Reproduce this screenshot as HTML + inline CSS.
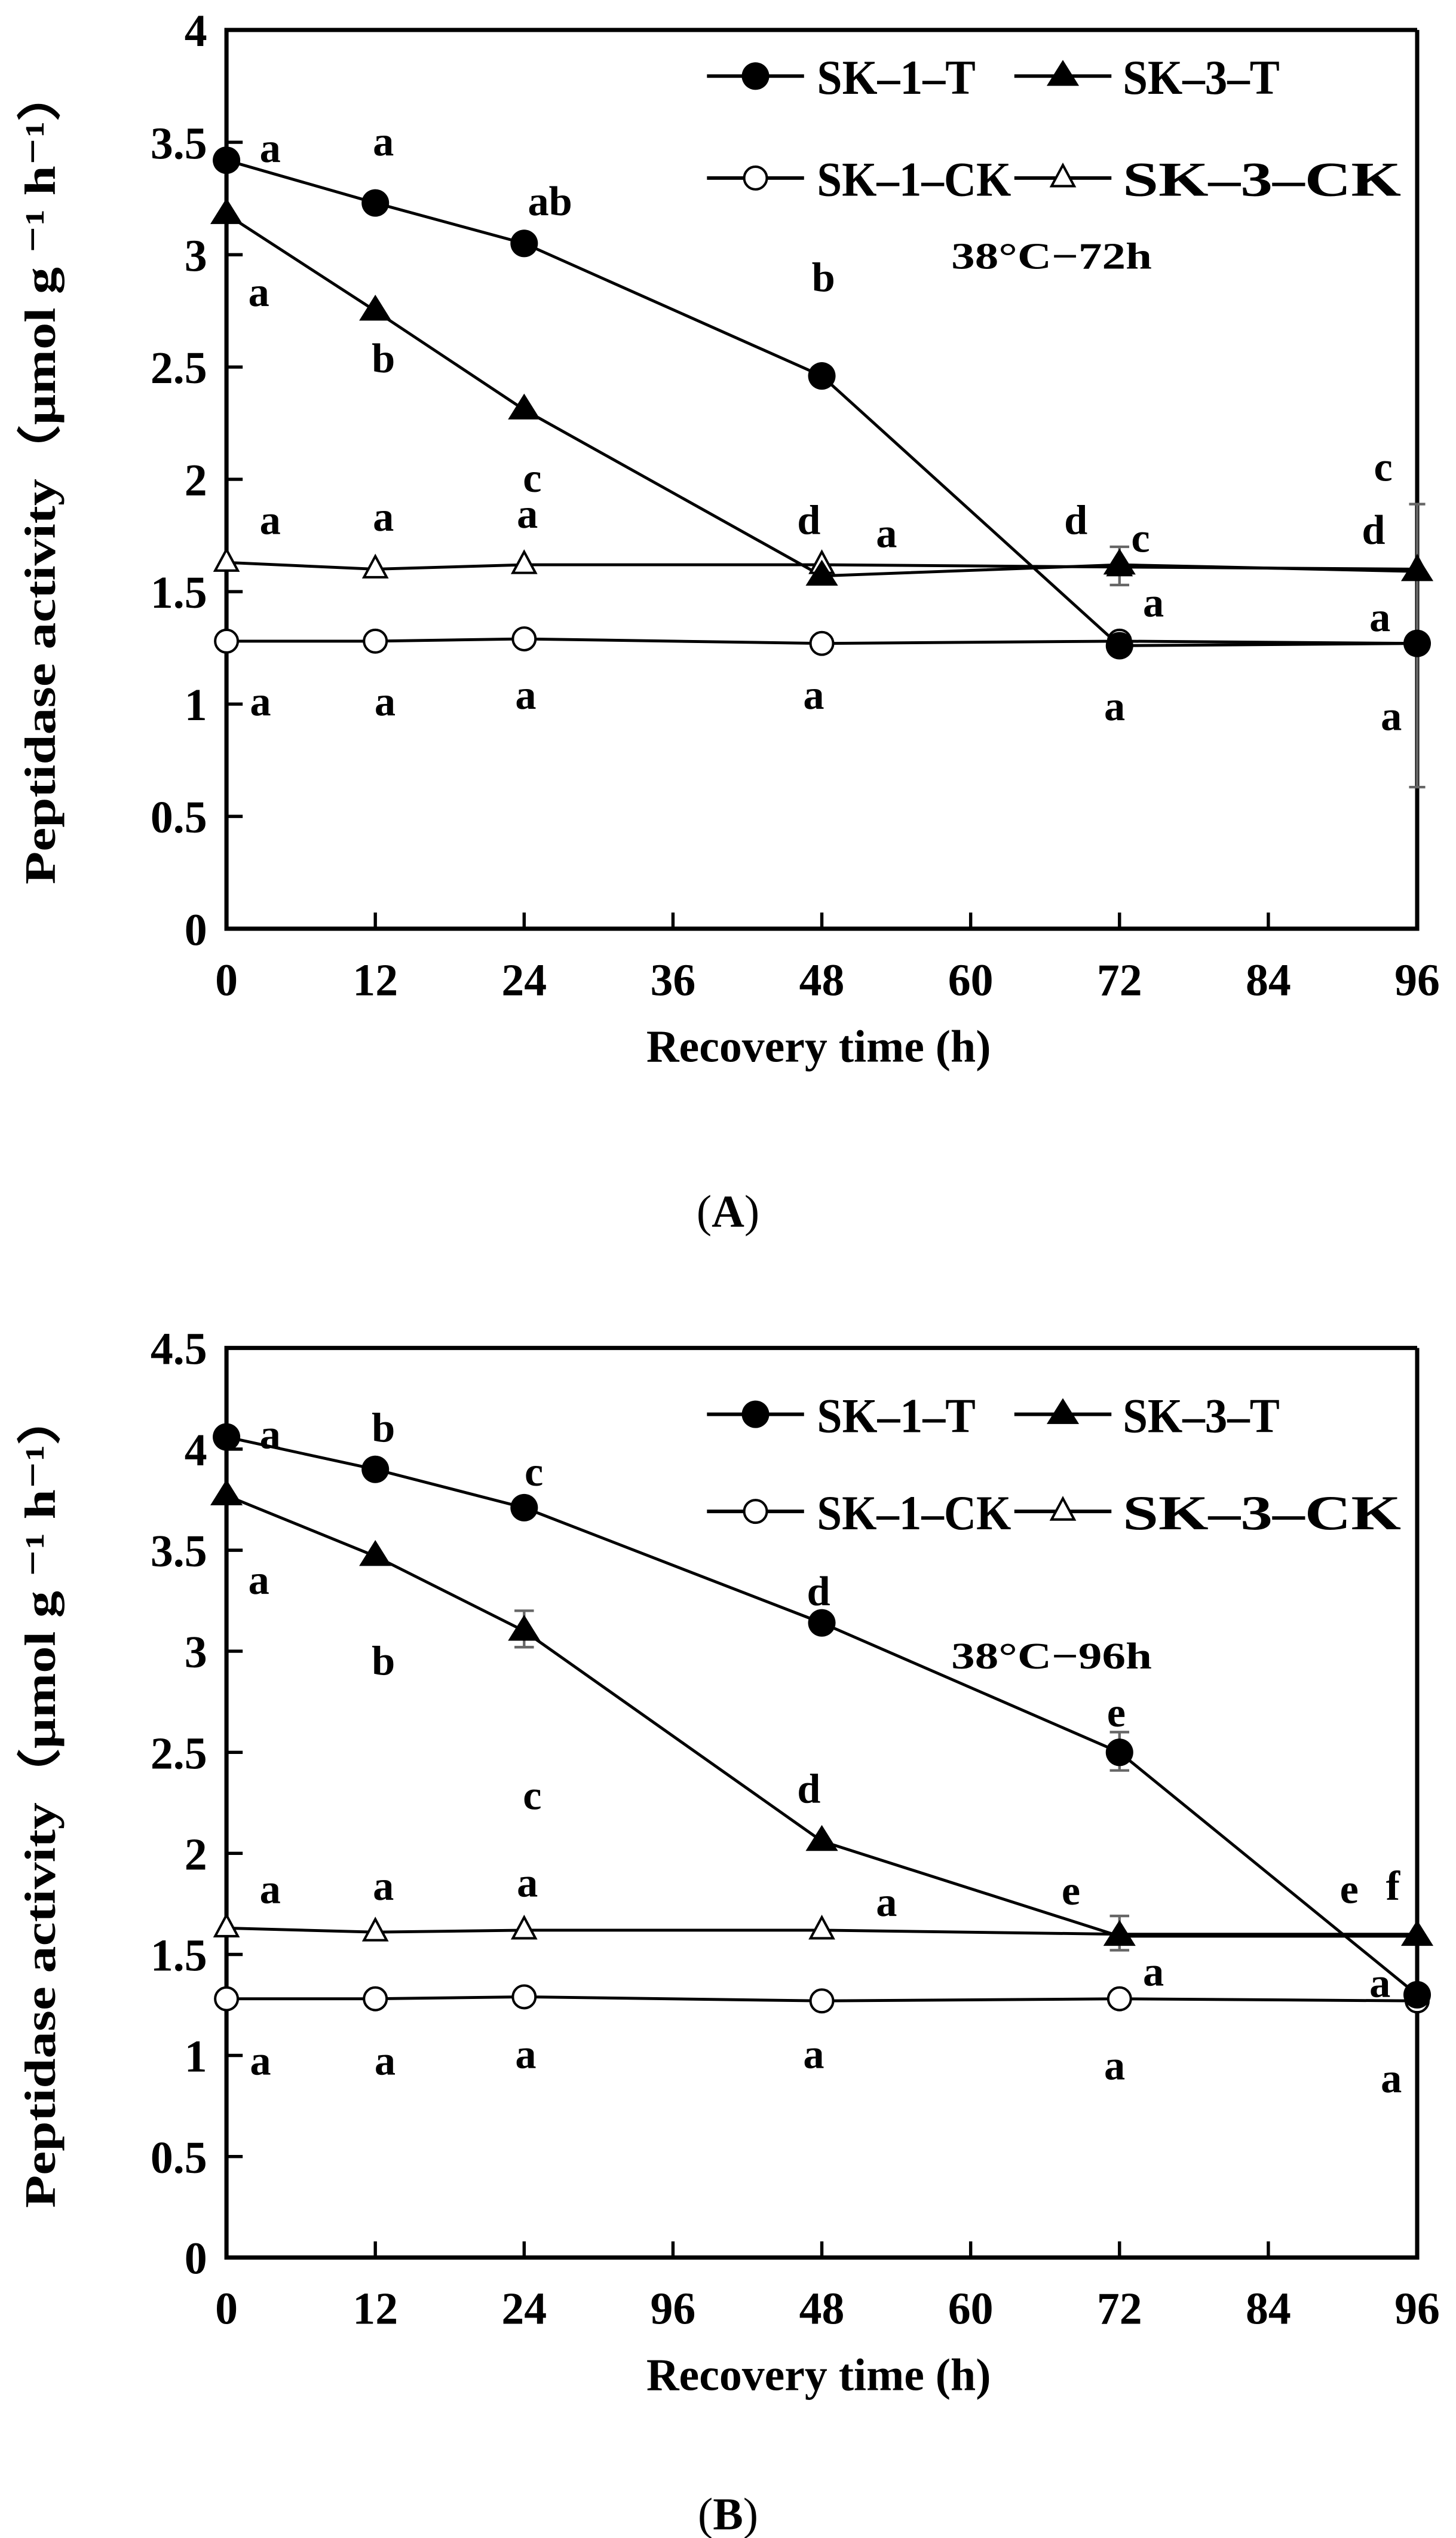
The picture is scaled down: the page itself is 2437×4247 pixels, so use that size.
<!DOCTYPE html>
<html><head><meta charset="utf-8"><style>
html,body{margin:0;padding:0;background:#fff;}
svg{display:block;}
text{font-family:"Liberation Serif","DejaVu Serif",serif;fill:#000;}
.b{font-weight:bold;}
.t{font-size:28px;font-weight:bold;text-anchor:end;}
.x{font-size:28px;font-weight:bold;text-anchor:middle;}
.l{font-size:26px;font-weight:bold;text-anchor:middle;}
.g{font-size:30px;font-weight:bold;}
.s{fill:none;stroke:#000;stroke-width:1.8;}
.e{stroke:#666;stroke-width:1.6;}
</style></head><body>
<svg width="2437" height="4247" viewBox="0 0 900 1568.4" xmlns="http://www.w3.org/2000/svg">
<rect width="900" height="1568.4" fill="#fff"/>

<!-- ================= PANEL A ================= -->
<g>
<path d="M876,18.5 H140 V573.9 H876 V18.5" fill="none" stroke="#000" stroke-width="2.6"/>
<g stroke="#000" stroke-width="2">
<path d="M140,504.5h10M140,435.1h10M140,365.6h10M140,296.2h10M140,226.8h10M140,157.4h10M140,87.9h10"/>
<path d="M232,573.9v-10M324,573.9v-10M416,573.9v-10M508,573.9v-10M600,573.9v-10M692,573.9v-10M784,573.9v-10"/>
</g>
<text class="t" x="128" y="584">0</text>
<text class="t" x="128" y="514.5">0.5</text>
<text class="t" x="128" y="445">1</text>
<text class="t" x="128" y="375.6">1.5</text>
<text class="t" x="128" y="306.2">2</text>
<text class="t" x="128" y="236.8">2.5</text>
<text class="t" x="128" y="167.4">3</text>
<text class="t" x="128" y="98">3.5</text>
<text class="t" x="128" y="28.5">4</text>
<text class="x" x="140" y="615">0</text>
<text class="x" x="232" y="615">12</text>
<text class="x" x="324" y="615">24</text>
<text class="x" x="416" y="615">36</text>
<text class="x" x="508" y="615">48</text>
<text class="x" x="600" y="615">60</text>
<text class="x" x="692" y="615">72</text>
<text class="x" x="784" y="615">84</text>
<text class="x" x="876" y="615">96</text>
<text class="x" x="506" y="656">Recovery time (h)</text>
<text class="b" font-size="27" text-anchor="middle" transform="translate(34,294) rotate(-90)" textLength="505" lengthAdjust="spacingAndGlyphs">Peptidase activity（μmol g ⁻¹ h⁻¹）</text>
<text class="x" x="450" y="758"><tspan font-weight="normal">(</tspan>A<tspan font-weight="normal">)</tspan></text>

<g class="e"><path d="M876,311.5V486.4M871,311.5h10M871,486.4h10M692,337.9V361.5M686,337.9h12M686,361.5h12"/></g>
<polyline class="s" points="140,99 232,125.4 324,150.4 508,232.3 692,399 876,397.6"/>
<polyline class="s" points="140,132.4 232,192.1 324,253.2 508,355.9 692,349 876,353.1"/>
<polyline class="s" points="140,396.2 232,396.2 324,394.8 508,397.6 692,396.2 876,397.6"/>
<polyline class="s" points="140,347.6 232,351.7 324,349 508,349 692,350.4 876,351.7"/>
<g fill="#fff" stroke="#000" stroke-width="1.5">
<circle cx="140" cy="396.2" r="7"/><circle cx="232" cy="396.2" r="7"/><circle cx="324" cy="394.8" r="7"/><circle cx="508" cy="397.6" r="7"/><circle cx="692" cy="396.2" r="7"/>
<path d="M140,339.6l7,13h-14zM232,343.7l7,13h-14zM324,341l7,13h-14zM508,341l7,13h-14zM692,342.4l7,13h-14zM876,343.7l7,13h-14z"/>
</g>
<g fill="#000">
<circle cx="140" cy="99" r="8.5"/><circle cx="232" cy="125.4" r="8.5"/><circle cx="324" cy="150.4" r="8.5"/><circle cx="508" cy="232.3" r="8.5"/><circle cx="692" cy="399" r="8.5"/><circle cx="876" cy="397.6" r="8.5"/>
<path d="M140,122.4l10,16h-20zM232,182.1l10,16h-20zM324,243.2l10,16h-20zM508,345.9l10,16h-20zM692,339l10,16h-20zM876,343.1l10,16h-20z"/>
</g>
<g class="l">
<text x="167" y="100">a</text><text x="237" y="96">a</text><text x="340" y="133">ab</text><text x="509" y="180">b</text>
<text x="160" y="189">a</text><text x="237" y="230">b</text><text x="329" y="304">c</text>
<text x="167" y="330">a</text><text x="237" y="328">a</text><text x="326" y="326">a</text><text x="500" y="330">d</text><text x="548" y="338">a</text><text x="665" y="330">d</text><text x="705" y="341">c</text><text x="855" y="297">c</text><text x="849" y="336">d</text><text x="713" y="381">a</text><text x="853" y="390">a</text>
<text x="161" y="442">a</text><text x="238" y="442">a</text><text x="325" y="438">a</text><text x="503" y="438">a</text><text x="689" y="445">a</text><text x="860" y="451">a</text>
</g>
<text class="b" font-size="23" text-anchor="middle" x="650" y="166" textLength="124" lengthAdjust="spacingAndGlyphs">38°C−72h</text>
<g stroke="#000" stroke-width="2.2"><path d="M437,47h60M627,47h60M437,110h60M627,110h60"/></g>
<circle cx="467" cy="47" r="8.5"/>
<path d="M657,37l10,16h-20z"/>
<circle cx="467" cy="110" r="7" fill="#fff" stroke="#000" stroke-width="1.5"/>
<path d="M657,102l7,13h-14z" fill="#fff" stroke="#000" stroke-width="1.5"/>
<text class="g" x="505" y="58" textLength="98" lengthAdjust="spacingAndGlyphs">SK–1–T</text>
<text class="g" x="694" y="58" textLength="97" lengthAdjust="spacingAndGlyphs">SK–3–T</text>
<text class="g" x="505" y="121" textLength="120" lengthAdjust="spacingAndGlyphs">SK–1–CK</text>
<text class="g" x="694" y="121" textLength="172" lengthAdjust="spacingAndGlyphs">SK–3–CK</text>
</g>

<!-- ================= PANEL B ================= -->
<g>
<path d="M876,833 H140 V1395.1 H876 V833" fill="none" stroke="#000" stroke-width="2.6"/>
<g stroke="#000" stroke-width="2">
<path d="M140,1332.7h10M140,1270.2h10M140,1207.8h10M140,1145.3h10M140,1082.9h10M140,1020.4h10M140,958h10M140,895.5h10"/>
<path d="M232,1395.1v-10M324,1395.1v-10M416,1395.1v-10M508,1395.1v-10M600,1395.1v-10M692,1395.1v-10M784,1395.1v-10"/>
</g>
<text class="t" x="128" y="1405">0</text>
<text class="t" x="128" y="1342.7">0.5</text>
<text class="t" x="128" y="1280.2">1</text>
<text class="t" x="128" y="1217.8">1.5</text>
<text class="t" x="128" y="1155.3">2</text>
<text class="t" x="128" y="1092.9">2.5</text>
<text class="t" x="128" y="1030.4">3</text>
<text class="t" x="128" y="968">3.5</text>
<text class="t" x="128" y="905.5">4</text>
<text class="t" x="128" y="843">4.5</text>
<text class="x" x="140" y="1436">0</text>
<text class="x" x="232" y="1436">12</text>
<text class="x" x="324" y="1436">24</text>
<text class="x" x="416" y="1436">96</text>
<text class="x" x="508" y="1436">48</text>
<text class="x" x="600" y="1436">60</text>
<text class="x" x="692" y="1436">72</text>
<text class="x" x="784" y="1436">84</text>
<text class="x" x="876" y="1436">96</text>
<text class="x" x="506" y="1477">Recovery time (h)</text>
<text class="b" font-size="27" text-anchor="middle" transform="translate(34,1112) rotate(-90)" textLength="505" lengthAdjust="spacingAndGlyphs">Peptidase activity（μmol g ⁻¹ h⁻¹）</text>
<text class="x" x="450" y="1563"><tspan font-weight="normal">(</tspan>B<tspan font-weight="normal">)</tspan></text>

<g class="e"><path d="M324,995.4V1017.9M318,995.4h12M318,1017.9h12M692,1070.4V1094.1M686,1070.4h12M686,1094.1h12M692,1184V1205.2M686,1184h12M686,1205.2h12"/></g>
<polyline class="s" points="140,888 232,908 324,931.7 508,1002.9 692,1082.9 876,1232.7"/>
<polyline class="s" points="140,924.2 232,961.7 324,1007.9 508,1137.8 692,1196.5 876,1196.5"/>
<polyline class="s" points="140,1235.2 232,1235.2 324,1234 508,1236.5 692,1235.2 876,1236.5"/>
<polyline class="s" points="140,1191.5 232,1194 324,1192.8 508,1192.8 692,1195.3 876,1195.3"/>
<g fill="#fff" stroke="#000" stroke-width="1.5">
<circle cx="140" cy="1235.2" r="7"/><circle cx="232" cy="1235.2" r="7"/><circle cx="324" cy="1234" r="7"/><circle cx="508" cy="1236.5" r="7"/><circle cx="692" cy="1235.2" r="7"/><circle cx="876" cy="1236.5" r="7"/>
<path d="M140,1183.5l7,13h-14zM232,1186l7,13h-14zM324,1184.8l7,13h-14zM508,1184.8l7,13h-14z"/>
</g>
<g fill="#000">
<circle cx="140" cy="888" r="8.5"/><circle cx="232" cy="908" r="8.5"/><circle cx="324" cy="931.7" r="8.5"/><circle cx="508" cy="1002.9" r="8.5"/><circle cx="692" cy="1082.9" r="8.5"/><circle cx="876" cy="1232.7" r="8.5"/>
<path d="M140,914.2l10,16h-20zM232,951.7l10,16h-20zM324,997.9l10,16h-20zM508,1127.8l10,16h-20zM692,1186.5l10,16h-20zM876,1186.5l10,16h-20z"/>
</g>
<g class="l">
<text x="167" y="895">a</text><text x="237" y="891">b</text><text x="330" y="918">c</text><text x="506" y="992">d</text><text x="690" y="1067">e</text>
<text x="160" y="985">a</text><text x="237" y="1035">b</text><text x="329" y="1118">c</text><text x="500" y="1114">d</text>
<text x="167" y="1176">a</text><text x="237" y="1174">a</text><text x="326" y="1172">a</text><text x="548" y="1184">a</text><text x="662" y="1177">e</text><text x="713" y="1227">a</text><text x="834" y="1176">e</text><text x="861" y="1174">f</text><text x="853" y="1234">a</text>
<text x="161" y="1282">a</text><text x="238" y="1282">a</text><text x="325" y="1278">a</text><text x="503" y="1278">a</text><text x="689" y="1285">a</text><text x="860" y="1293">a</text>
</g>
<text class="b" font-size="23" text-anchor="middle" x="650" y="1031" textLength="124" lengthAdjust="spacingAndGlyphs">38°C−96h</text>
<g stroke="#000" stroke-width="2.2"><path d="M437,874h60M627,874h60M437,934h60M627,934h60"/></g>
<circle cx="467" cy="874" r="8.5"/>
<path d="M657,864l10,16h-20z"/>
<circle cx="467" cy="934" r="7" fill="#fff" stroke="#000" stroke-width="1.5"/>
<path d="M657,926l7,13h-14z" fill="#fff" stroke="#000" stroke-width="1.5"/>
<text class="g" x="505" y="885" textLength="98" lengthAdjust="spacingAndGlyphs">SK–1–T</text>
<text class="g" x="694" y="885" textLength="97" lengthAdjust="spacingAndGlyphs">SK–3–T</text>
<text class="g" x="505" y="945" textLength="120" lengthAdjust="spacingAndGlyphs">SK–1–CK</text>
<text class="g" x="694" y="945" textLength="172" lengthAdjust="spacingAndGlyphs">SK–3–CK</text>
</g>
</svg>
</body></html>
